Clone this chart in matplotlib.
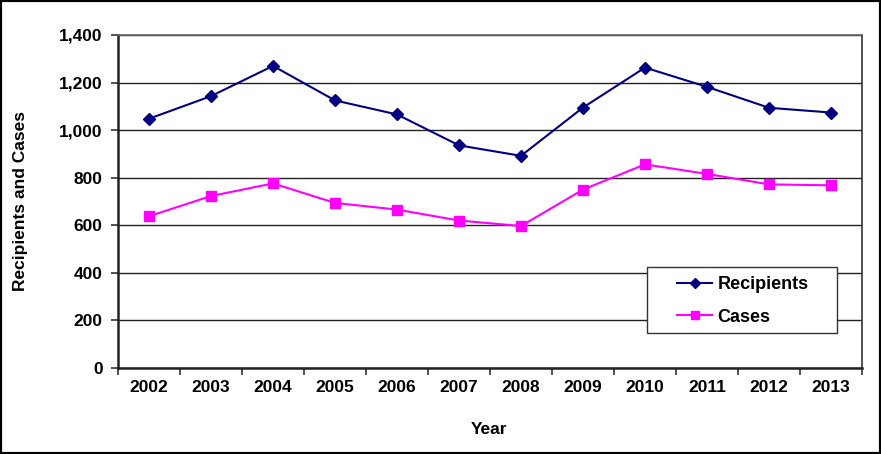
import matplotlib
matplotlib.use("Agg")
import matplotlib.pyplot as plt
from matplotlib.patches import Rectangle
import numpy as np

years = ["2002", "2003", "2004", "2005", "2006", "2007", "2008", "2009", "2010", "2011", "2012", "2013"]
recipients = [1048, 1143, 1270, 1125, 1066, 936, 892, 1095, 1263, 1182, 1094, 1074]
cases = [638, 723, 776, 694, 666, 620, 597, 750, 856, 816, 772, 768]
yticks = [0, 200, 400, 600, 800, 1000, 1200, 1400]

plt.rcParams['font.family'] = ['Liberation Sans', 'DejaVu Sans']

W, H = 881, 454
L, R, T, B = 118, 862, 35, 368
fig = plt.figure(figsize=(W/100, H/100), dpi=100)
ax = fig.add_axes([L/W, 1-B/H, (R-L)/W, (B-T)/H])

def axx(px):
    return (px - L) / (R - L)

def axy(py):
    return (B - py) / (B - T)

x = np.arange(len(years))
ax.plot(x, recipients, color='#000080', marker='D', markersize=6, linewidth=1.5, label='Recipients')
ax.plot(x, cases, color='#FF00FF', marker='s', markersize=7, linewidth=1.5, label='Cases')

ax.set_xlim(-0.5, len(years) - 0.5)
ax.set_ylim(0, 1400)
ax.set_yticks(yticks)
ax.set_yticklabels([f"{v:,}" for v in yticks], fontsize=12.5, fontweight='bold')
ax.set_xticks(x)
ax.set_xticklabels(years, fontsize=12.5, fontweight='bold')
ax.tick_params(axis='x', which='major', length=0, pad=9)
ax.set_xticks(np.arange(-0.5, len(years), 1), minor=True)
ax.tick_params(axis='x', which='minor', length=5, width=1.2, direction='out', color='#333333')
ax.tick_params(axis='y', which='major', length=5, width=1.2, direction='out', color='#333333', pad=6)

ax.grid(axis='y', color='#222222', linewidth=1)
ax.set_axisbelow(True)
for s in ['left', 'bottom']:
    ax.spines[s].set_linewidth(1.8)
    ax.spines[s].set_color('#222222')
ax.spines['right'].set_linewidth(1.2)
ax.spines['right'].set_color('#333333')
ax.spines['top'].set_linewidth(1.2)
ax.spines['top'].set_color('#666666')

ax.set_ylabel('Recipients and Cases', fontsize=12.5, fontweight='bold')
ax.set_xlabel('Year', fontsize=12.5, fontweight='bold')
ax.yaxis.set_label_coords(axx(28), 0.5)
ax.xaxis.set_label_coords(axx(489), axy(422))

# legend box
ax.add_patch(Rectangle((axx(647), axy(333)), axx(837) - axx(647), axy(267) - axy(333),
                       transform=ax.transAxes, facecolor='white', edgecolor='#333333',
                       linewidth=1.0, zorder=4.5, clip_on=False))
leg = ax.legend(loc='center left', bbox_to_anchor=(axx(677), axy(301)),
                prop={'weight': 'bold', 'size': 13}, frameon=False,
                handlelength=1.95, borderpad=0, borderaxespad=0, labelspacing=0.85,
                handletextpad=0.28, markerscale=0.85)
leg.set_zorder(5)

fig.patches.append(Rectangle((0, 0), 1, 1, transform=fig.transFigure, fill=False,
                             edgecolor='black', linewidth=3))

fig.savefig('out.png', dpi=100)
